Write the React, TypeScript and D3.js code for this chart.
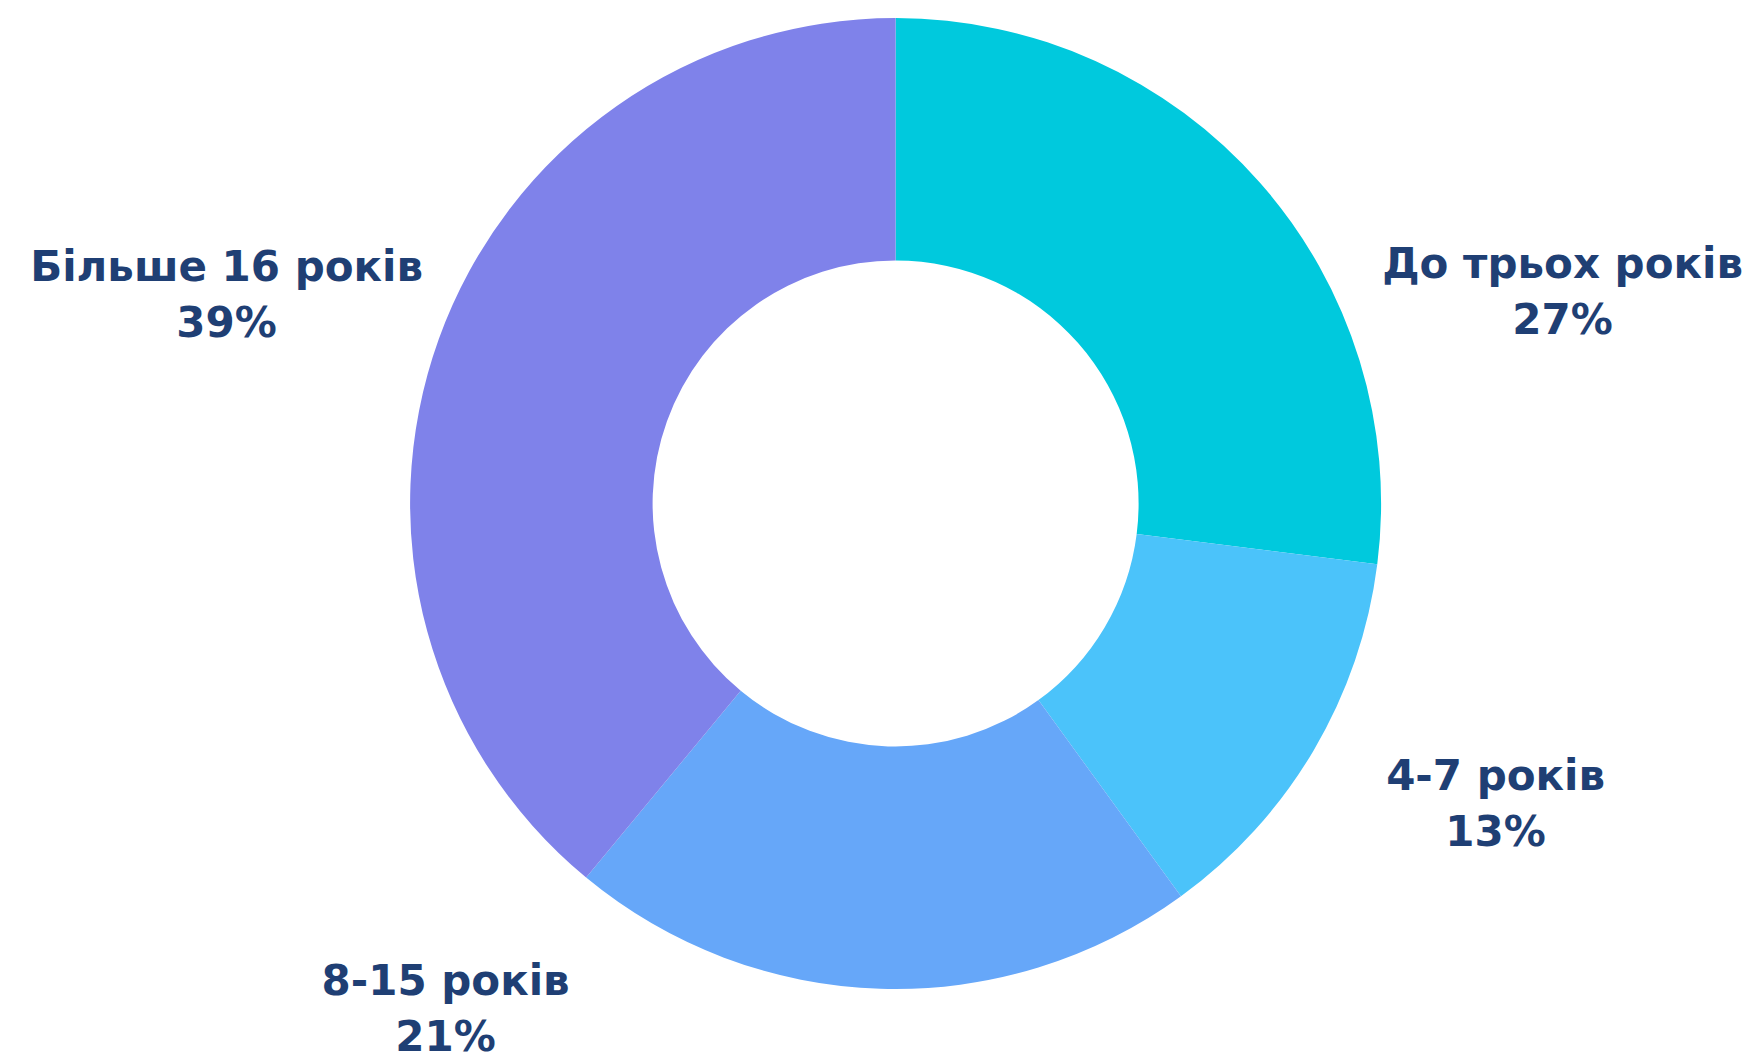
import React, { useRef, useEffect } from 'react';
import * as d3 from 'd3';

// slice data, clockwise from 12 o'clock
const categories = ['До трьох років', '4-7 років', '8-15 років', 'Більше 16 років'];
const shares = [27, 13, 21, 39];
const colors = ['#00c9dd', '#4bc3fa', '#66a7f9', '#7f82ea'];

// where each label sits, relative to the donut centre
const labelOffsets = [
  [667, -226],
  [600, 286],
  [-450, 491],
  [-669, -223],
];

const W = 1762;
const H = 1058;

const App = () => {
  const svgRef = useRef<SVGSVGElement>(null);

  useEffect(() => {
    const svg = d3.select(svgRef.current);
    svg.selectAll('*').remove();

    const cx = 895.6;
    const cy = 503.5;
    const outerR = 485.5;
    const innerR = 243;

    const data = categories.map((c, i) => ({ name: c, value: shares[i], color: colors[i] }));

    const pie = d3.pie<any>().value(d => d.value).sort(null);
    const arc = d3.arc<any>().innerRadius(innerR).outerRadius(outerR);

    const g = svg.append('g').attr('transform', `translate(${cx},${cy})`);

    g.selectAll('path')
      .data(pie(data))
      .enter()
      .append('path')
      .attr('d', arc)
      .attr('fill', d => d.data.color);

    // labels
    const labels = g.selectAll('text.lbl')
      .data(data)
      .enter()
      .append('text')
      .attr('class', 'lbl')
      .attr('text-anchor', 'middle')
      .attr('font-family', '"DejaVu Sans", sans-serif')
      .attr('font-weight', 'bold')
      .attr('font-size', 42)
      .attr('fill', '#1f3f74')
      .attr('transform', (d, i) => `translate(${labelOffsets[i][0]},${labelOffsets[i][1]})`);

    labels.append('tspan')
      .attr('x', 0)
      .attr('y', 0)
      .text(d => d.name);

    labels.append('tspan')
      .attr('x', 0)
      .attr('y', 56)
      .text(d => `${d.value}%`);
  }, []);

  return (
    <svg
      ref={svgRef}
      width={W}
      height={H}
      style={{ position: 'absolute', left: 0, top: 0, background: '#fff' }}
    ></svg>
  );
};

export default App;
